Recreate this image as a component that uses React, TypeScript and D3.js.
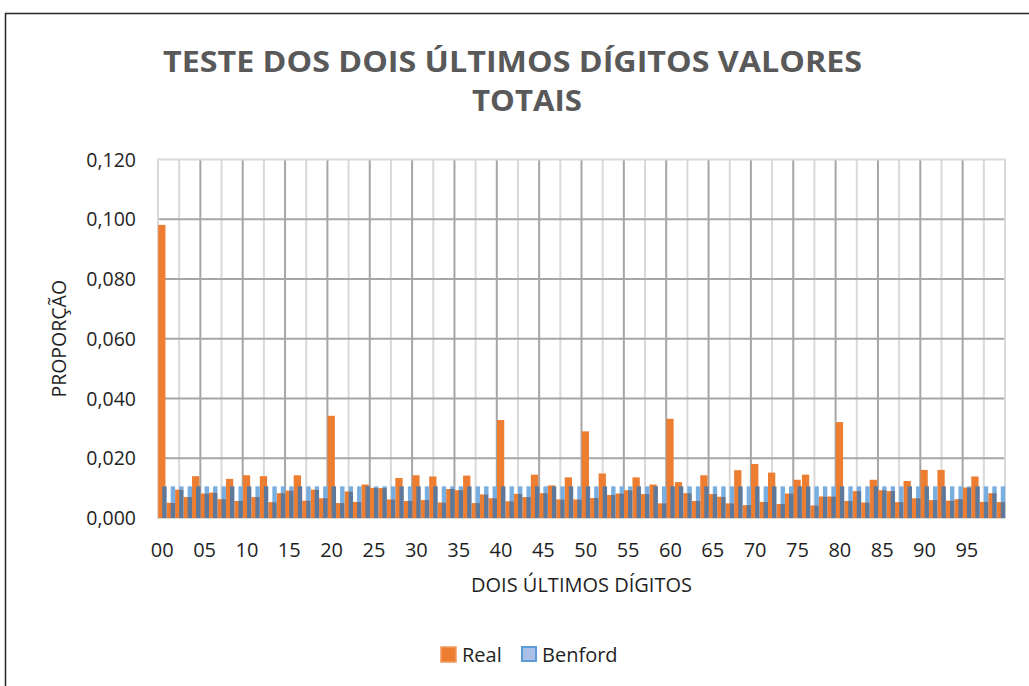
import React from "react";
import * as d3 from "d3";

// dois últimos dígitos 00..99
const digits = d3.range(100).map((i) => String(i).padStart(2, "0"));

const realShare = [
  0.0981, 0.0051, 0.0095, 0.007, 0.014, 0.0082, 0.0085, 0.0063, 0.0131, 0.0057,
  0.0143, 0.007, 0.014, 0.0053, 0.0083, 0.0092, 0.0143, 0.0058, 0.0095, 0.0066,
  0.0342, 0.005, 0.0089, 0.0054, 0.0112, 0.0101, 0.01, 0.0062, 0.0134, 0.0057,
  0.0143, 0.006, 0.0139, 0.0052, 0.0097, 0.0093, 0.0142, 0.005, 0.0079, 0.0066,
  0.0328, 0.0056, 0.0081, 0.007, 0.0145, 0.0083, 0.0109, 0.0062, 0.0136, 0.0062,
  0.029, 0.0067, 0.0149, 0.0077, 0.0082, 0.0093, 0.0136, 0.008, 0.0112, 0.0049,
  0.0332, 0.012, 0.0083, 0.0057, 0.0143, 0.008, 0.0071, 0.0049, 0.016, 0.0043,
  0.0181, 0.0054, 0.0152, 0.0047, 0.0082, 0.0128, 0.0145, 0.0042, 0.0072, 0.0072,
  0.0321, 0.0057, 0.009, 0.0052, 0.0128, 0.0093, 0.009, 0.0053, 0.0124, 0.0066,
  0.0161, 0.006, 0.0161, 0.0058, 0.0063, 0.0102, 0.0139, 0.0054, 0.0083, 0.0053,
];

// proporção esperada (Benford)
const benfordShare = [
  0.0106, 0.0106, 0.0106, 0.0106, 0.0106, 0.0106, 0.0106, 0.0106, 0.0106, 0.0106,
  0.0106, 0.0106, 0.0106, 0.0106, 0.0106, 0.0106, 0.0106, 0.0106, 0.0106, 0.0106,
  0.0106, 0.0106, 0.0106, 0.0106, 0.0106, 0.0106, 0.0106, 0.0106, 0.0106, 0.0106,
  0.0106, 0.0106, 0.0106, 0.0106, 0.0106, 0.0106, 0.0106, 0.0106, 0.0106, 0.0106,
  0.0106, 0.0106, 0.0106, 0.0106, 0.0106, 0.0106, 0.0106, 0.0106, 0.0106, 0.0106,
  0.0106, 0.0106, 0.0106, 0.0106, 0.0106, 0.0106, 0.0106, 0.0106, 0.0106, 0.0106,
  0.0106, 0.0106, 0.0106, 0.0106, 0.0106, 0.0106, 0.0106, 0.0106, 0.0106, 0.0106,
  0.0106, 0.0106, 0.0106, 0.0106, 0.0106, 0.0106, 0.0106, 0.0106, 0.0106, 0.0106,
  0.0106, 0.0106, 0.0106, 0.0106, 0.0106, 0.0106, 0.0106, 0.0106, 0.0106, 0.0106,
  0.0106, 0.0106, 0.0106, 0.0106, 0.0106, 0.0106, 0.0106, 0.0106, 0.0106, 0.0106,
];

const yTicks = [0, 0.02, 0.04, 0.06, 0.08, 0.1, 0.12];
const xLabels = digits.filter((d, i) => i % 5 === 0);

const width = 1029;
const height = 686;
const margin = { top: 159.5, bottom: 168, left: 158, right: 24 };
const font = "'Open Sans', 'Noto Sans', sans-serif";

export default function App() {
  const x = d3
    .scaleBand()
    .domain(digits)
    .range([margin.left, width - margin.right])
    .padding(0);
  const y = d3
    .scaleLinear()
    .domain([0, 0.12])
    .range([height - margin.bottom, margin.top]);
  const bw = x.bandwidth();
  const fmt = (v) => d3.format(".3f")(v).replace(".", ",");
  const x0 = margin.left;
  const x1 = width - margin.right;
  const yBase = y(0);

  // linhas verticais: escuras a cada 5, claras no meio
  const darkV = d3.range(5, 100, 5).map((i) => x0 + i * bw);
  const lightV = d3.range(2.5, 100, 5).map((i) => x0 + i * bw);

  return (
    <svg
      width={width}
      height={height}
      style={{ position: "absolute", left: 0, top: 0, background: "#fff" }}
      fontFamily={font}
    >
      <rect x={5.5} y={13.5} width={1040} height={700} fill="#fff" stroke="#262626" strokeWidth={1.5} />

      <text x={512.5} y={72} textAnchor="middle" fontSize={29} fontWeight="bold" fill="#595959"
        textLength={699} lengthAdjust="spacingAndGlyphs">
        TESTE DOS DOIS ÚLTIMOS DÍGITOS VALORES
      </text>
      <text x={527} y={111} textAnchor="middle" fontSize={29} fontWeight="bold" fill="#595959"
        textLength={110} lengthAdjust="spacingAndGlyphs">
        TOTAIS
      </text>

      {/* grade */}
      {lightV.map((gx, i) => (
        <line key={"lv" + i} x1={gx} x2={gx} y1={y(0.12)} y2={yBase} stroke="#d9d9d9" strokeWidth={2} />
      ))}
      {darkV.map((gx, i) => (
        <line key={"dv" + i} x1={gx} x2={gx} y1={y(0.12)} y2={yBase} stroke="#a6a6a6" strokeWidth={2} />
      ))}
      {yTicks.filter((t) => t > 0 && t < 0.12).map((t) => (
        <line key={"h" + t} x1={x0} x2={x1} y1={y(t)} y2={y(t)} stroke="#a6a6a6" strokeWidth={2} />
      ))}
      <rect x={x0} y={y(0.12)} width={x1 - x0} height={yBase - y(0.12)} fill="none" stroke="#d9d9d9" strokeWidth={2} />

      {/* Real */}
      {digits.map((d, i) => (
        <rect
          key={"r" + d}
          x={x(d) + 0.02 * bw}
          y={y(realShare[i])}
          width={0.86 * bw}
          height={yBase - y(realShare[i])}
          fill="#ed7d31"
        />
      ))}
      {/* Benford */}
      {digits.map((d, i) => {
        const low = Math.min(realShare[i], benfordShare[i]);
        const bx = x(d) + 0.5 * bw;
        return (
          <g key={"b" + d}>
            {benfordShare[i] > low && (
              <rect x={bx} y={y(benfordShare[i])} width={0.52 * bw} height={y(low) - y(benfordShare[i])} fill="#79aee0" />
            )}
            <rect x={bx} y={y(low)} width={0.52 * bw} height={yBase - y(low)} fill="#5e7899" />
          </g>
        );
      })}

      {/* eixo Y */}
      {yTicks.map((t) => (
        <text key={"yt" + t} x={136} y={y(t)} dy="0.36em" textAnchor="end" fontSize={19.5} fill="#1f1f1f">
          {fmt(t)}
        </text>
      ))}
      <text
        transform={`translate(66, ${(y(0) + y(0.12)) / 2}) rotate(-90)`}
        textAnchor="middle"
        fontSize={19.5}
        fill="#1f1f1f"
      >
        PROPORÇÃO
      </text>

      {/* eixo X */}
      {xLabels.map((d) => (
        <text key={"xt" + d} x={x(d) + bw / 2} y={557} textAnchor="middle" fontSize={20} fill="#1f1f1f">
          {d}
        </text>
      ))}
      <text x={(x0 + x1) / 2} y={592} textAnchor="middle" fontSize={20} fill="#1f1f1f">
        DOIS ÚLTIMOS DÍGITOS
      </text>

      {/* legenda */}
      <rect x={441} y={647} width={15} height={15} fill="#ed7d31" stroke="#f19a5c" strokeWidth={1.5} />
      <text x={462} y={662} fontSize={20} fill="#1f1f1f">Real</text>
      <rect x={522} y={647} width={14} height={14} fill="#aabfe8" stroke="#5b9bd5" strokeWidth={2} />
      <text x={542} y={662} fontSize={20} fill="#1f1f1f">Benford</text>
    </svg>
  );
}
